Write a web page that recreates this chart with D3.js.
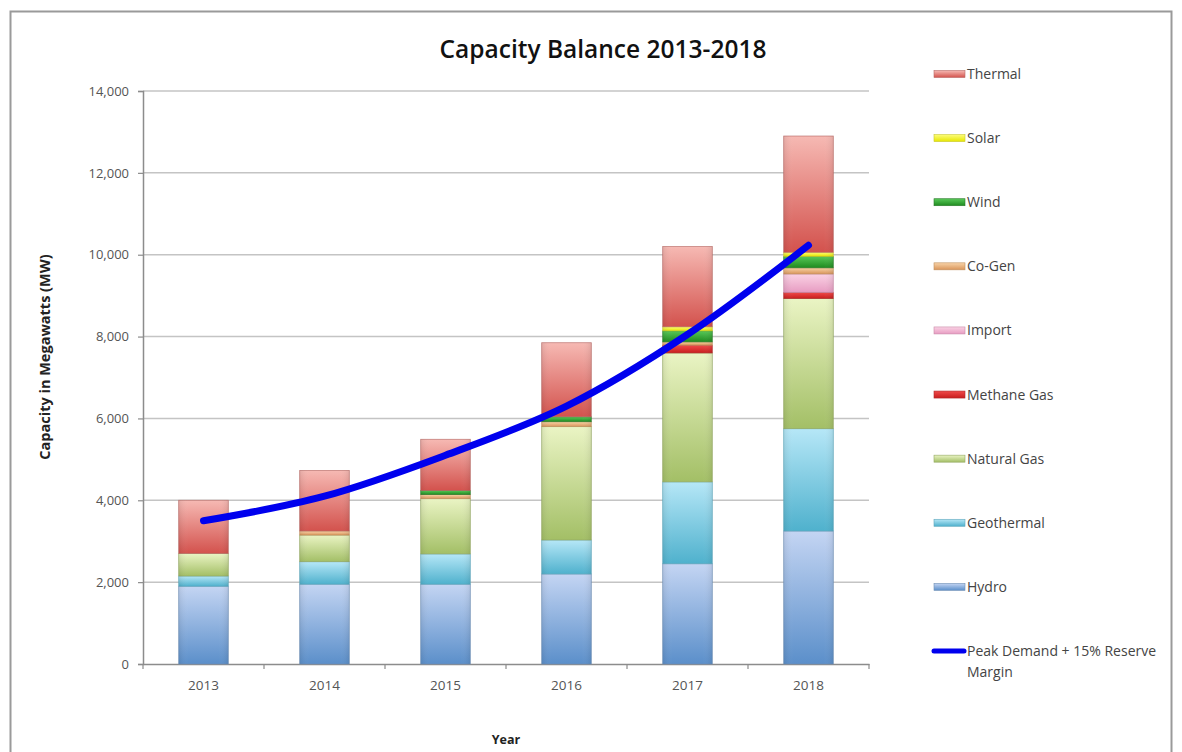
<!DOCTYPE html>
<html>
<head>
<meta charset="utf-8">
<script src="https://cdn.jsdelivr.net/npm/d3@7"></script>
<style>
  html, body { margin: 0; padding: 0; background: #ffffff; }
  svg { display: block; }
  text { font-family: "Open Sans", "Lato", "DejaVu Sans", sans-serif; }
</style>
</head>
<body>
<svg id="chart" width="1182" height="752"></svg>
<script>
// ---------------- DATA ----------------
const years = ["2013", "2014", "2015", "2016", "2017", "2018"];
const hydro      = [1900, 1950, 1950, 2200, 2450, 3250];
const geothermal = [250, 550, 740, 830, 2000, 2500];
const naturalGas = [550, 650, 1350, 2770, 3150, 3180];
const methaneGas = [0, 0, 0, 0, 190, 150];
const importCap  = [0, 0, 0, 0, 0, 450];
const coGen      = [0, 100, 100, 120, 80, 150];
const wind       = [0, 0, 100, 120, 270, 280];
const solar      = [0, 0, 0, 0, 100, 100];
const thermal    = [1300, 1480, 1250, 1810, 1960, 2840];
const peakDemand = [3500, 4100, 5100, 6300, 8050, 10230];
const yTicks = [0, 2000, 4000, 6000, 8000, 10000, 12000, 14000];

const seriesNames = ["Hydro", "Geothermal", "Natural Gas", "Methane Gas", "Import", "Co-Gen", "Wind", "Solar", "Thermal"];
const seriesValues = [hydro, geothermal, naturalGas, methaneGas, importCap, coGen, wind, solar, thermal];
const lineName = "Peak Demand + 15% Reserve Margin";

// colours: [top (light), bottom (dark), stroke]
const palette = {
  "Hydro":       ["#c4d5f3", "#5b8fca", "#6f8fb5"],
  "Geothermal":  ["#b6e7f7", "#4fb1cd", "#5ea7bb"],
  "Natural Gas": ["#eaf4c4", "#a3bf66", "#93a862"],
  "Methane Gas": ["#f04a4a", "#c81e1e", "#b02a2a"],
  "Import":      ["#fad2e4", "#e79cc2", "#c98aa8"],
  "Co-Gen":      ["#f8d3a8", "#d9955a", "#c0905f"],
  "Wind":        ["#58c858", "#1f8b1f", "#2a7a2a"],
  "Solar":       ["#fdfd7a", "#e6e600", "#c8c830"],
  "Thermal":     ["#f6b9b3", "#d3524d", "#b86a66"]
};

// ---------------- LAYOUT ----------------
const svg = d3.select("#chart");
const plot = { left: 143, right: 869, top: 91, bottom: 664 };

const x = d3.scaleBand().domain(years).range([plot.left, plot.right])
  .paddingInner(0.59).paddingOuter(0.295);
const y = d3.scaleLinear().domain([0, 14000]).range([plot.bottom, plot.top]);

// outer frame
svg.append("rect").attr("x", 10.5).attr("y", 11.5).attr("width", 1161).attr("height", 760)
  .attr("fill", "#fff").attr("stroke", "#9a9a9a").attr("stroke-width", 2);

// gradients
const defs = svg.append("defs");
seriesNames.forEach((n, i) => {
  const g = defs.append("linearGradient").attr("id", "g" + i)
    .attr("x1", 0).attr("y1", 0).attr("x2", 0).attr("y2", 1);
  g.append("stop").attr("offset", "0%").attr("stop-color", palette[n][0]);
  g.append("stop").attr("offset", "100%").attr("stop-color", palette[n][1]);
});
// side shading overlay
const side = defs.append("linearGradient").attr("id", "side").attr("x1", 0).attr("x2", 1).attr("y1", 0).attr("y2", 0);
side.append("stop").attr("offset", "0%").attr("stop-color", "#000").attr("stop-opacity", 0.08);
side.append("stop").attr("offset", "20%").attr("stop-color", "#fff").attr("stop-opacity", 0.0);
side.append("stop").attr("offset", "80%").attr("stop-color", "#fff").attr("stop-opacity", 0.0);
side.append("stop").attr("offset", "100%").attr("stop-color", "#000").attr("stop-opacity", 0.08);

// gridlines
svg.append("g").selectAll("line").data(yTicks.filter(d => d > 0)).join("line")
  .attr("x1", plot.left).attr("x2", plot.right)
  .attr("y1", d => y(d)).attr("y2", d => y(d))
  .attr("stroke", "#c4c4c4").attr("stroke-width", 1.5);

// y axis
const yAxis = d3.axisLeft(y).tickValues(yTicks).tickSize(5).tickPadding(9)
  .tickFormat(d3.format(","));
const yg = svg.append("g").attr("transform", `translate(${plot.left},0)`).call(yAxis);
yg.select(".domain").attr("stroke", "#8c8c8c").attr("stroke-width", 1.5);
yg.selectAll(".tick line").attr("stroke", "#8c8c8c").attr("stroke-width", 1.2);
yg.selectAll(".tick text").attr("fill", "#555").style("font-size", "13px")
  .style("font-family", "'Open Sans', sans-serif");

// x axis
const xAxis = d3.axisBottom(x).tickSize(0).tickPadding(16);
const xg = svg.append("g").attr("transform", `translate(0,${plot.bottom})`).call(xAxis);
xg.select(".domain").attr("stroke", "#8c8c8c").attr("stroke-width", 1.5);
xg.selectAll(".tick text").attr("fill", "#555").style("font-size", "13.5px")
  .style("font-family", "'Open Sans', sans-serif");
// category boundary ticks
const step = x.step();
const bounds = d3.range(years.length + 1).map(i => plot.left + i * step);
xg.selectAll(".bt").data(bounds).join("line").attr("class", "bt")
  .attr("x1", d => d).attr("x2", d => d).attr("y1", 0).attr("y2", 5)
  .attr("stroke", "#8c8c8c").attr("stroke-width", 1.2);

// stacked bars
const table = years.map((yr, j) => {
  const o = { year: yr };
  seriesNames.forEach((n, i) => { o[n] = seriesValues[i][j]; });
  return o;
});
const stack = d3.stack().keys(seriesNames)(table);
const barsG = svg.append("g");
stack.forEach((layer, i) => {
  const n = seriesNames[i];
  const segs = layer.filter(d => d[1] - d[0] > 0);
  barsG.selectAll(null).data(segs).join("rect")
    .attr("x", d => x(d.data.year))
    .attr("width", x.bandwidth())
    .attr("y", d => y(d[1]))
    .attr("height", d => y(d[0]) - y(d[1]))
    .attr("fill", `url(#g${i})`)
    .attr("stroke", palette[n][2]).attr("stroke-width", 0.8).attr("stroke-opacity", 0.8);
  barsG.selectAll(null).data(segs).join("rect")
    .attr("x", d => x(d.data.year))
    .attr("width", x.bandwidth())
    .attr("y", d => y(d[1]))
    .attr("height", d => y(d[0]) - y(d[1]))
    .attr("fill", "url(#side)");
});

// peak demand line
const line = d3.line()
  .x((d, i) => x(years[i]) + x.bandwidth() / 2)
  .y(d => y(d))
  .curve(d3.curveCatmullRom.alpha(0.5));
svg.append("path").datum(peakDemand).attr("d", line)
  .attr("fill", "none").attr("stroke", "#0000ee").attr("stroke-width", 7)
  .attr("stroke-linecap", "round").attr("stroke-linejoin", "round");

// title
svg.append("text").attr("x", 603).attr("y", 58).attr("text-anchor", "middle")
  .style("font-size", "24.5px").style("font-weight", "600").attr("fill", "#111")
  .text("Capacity Balance 2013-2018");

// axis titles
svg.append("text").attr("x", 506).attr("y", 744).attr("text-anchor", "middle")
  .style("font-size", "12.5px").style("font-weight", "bold").attr("fill", "#222")
  .text("Year");
svg.append("text").attr("transform", "translate(50,357) rotate(-90)").attr("text-anchor", "middle")
  .style("font-size", "14.5px").style("font-weight", "bold").attr("fill", "#222")
  .text("Capacity in Megawatts (MW)");

// legend (reversed order, line last)
const legendItems = seriesNames.slice().reverse();
const ly = d3.scaleLinear().domain([0, 9]).range([74, 651]);
const lg = svg.append("g");
legendItems.forEach((n, k) => {
  const i = seriesNames.indexOf(n);
  const cy = ly(k);
  lg.append("rect").attr("x", 934).attr("y", cy - 3.5).attr("width", 31).attr("height", 7)
    .attr("fill", `url(#g${i})`).attr("stroke", palette[n][2]).attr("stroke-width", 0.6);
  lg.append("text").attr("x", 967).attr("y", cy + 5)
    .style("font-size", "14px").attr("fill", "#444").text(n);
});
const lcy = ly(9);
lg.append("line").attr("x1", 934).attr("x2", 964).attr("y1", lcy).attr("y2", lcy)
  .attr("stroke", "#0000ee").attr("stroke-width", 5).attr("stroke-linecap", "round");
const lt = lg.append("text").attr("x", 967).attr("y", lcy + 5)
  .style("font-size", "14px").attr("fill", "#444");
lt.append("tspan").attr("x", 967).text("Peak Demand + 15% Reserve");
lt.append("tspan").attr("x", 967).attr("dy", 21).text("Margin");
</script>
</body>
</html>
